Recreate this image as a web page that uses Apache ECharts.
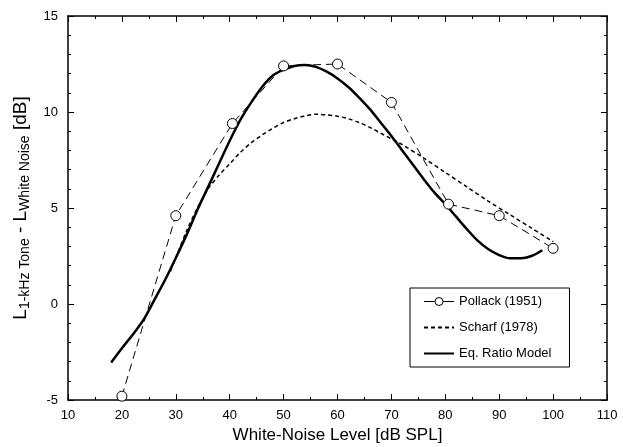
<!DOCTYPE html>
<html>
<head>
<meta charset="utf-8">
<script src="https://cdn.jsdelivr.net/npm/echarts@6/dist/echarts.min.js"></script>
<style>
  html, body { margin: 0; padding: 0; background: #fff; }
  #chart { width: 623px; height: 447px; }
</style>
</head>
<body>
<div id="chart"></div>
<script>
// data
const pollackX = [20, 30, 40.5, 50, 60, 70, 80.6, 90, 100];
const pollackY = [-4.8, 4.6, 9.4, 12.4, 12.5, 10.5, 5.2, 4.6, 2.9];

const scharfX = [29, 30, 32, 34, 36, 38, 40, 42, 44, 46, 48, 50, 52, 54, 56, 58, 60, 62, 64, 66, 68, 70, 72, 76, 80, 84, 88, 92, 96, 100];
const scharfY = [1.7, 2.4, 3.8, 5.0, 6.0, 6.7, 7.3, 7.9, 8.4, 8.8, 9.15, 9.45, 9.65, 9.8, 9.88, 9.85, 9.78, 9.65, 9.45, 9.2, 8.9, 8.6, 8.3, 7.6, 6.85, 6.1, 5.35, 4.65, 3.95, 3.25];

const modelX = [18, 20, 22, 24, 26, 28, 30, 32, 34, 36, 38, 40, 42, 44, 46, 48, 50, 52, 54, 56, 58, 60, 62, 64, 66, 68, 70, 72, 74, 76, 78, 80, 82, 84, 86, 88, 90, 92, 94, 96, 98];
const modelY = [-3.05, -2.3, -1.6, -0.83, 0.2, 1.25, 2.4, 3.6, 4.9, 6.1, 7.3, 8.5, 9.6, 10.5, 11.3, 11.9, 12.2, 12.4, 12.45, 12.35, 12.1, 11.75, 11.3, 10.75, 10.15, 9.45, 8.75, 8.0, 7.25, 6.5, 5.8, 5.2, 4.55, 3.9, 3.3, 2.85, 2.55, 2.38, 2.38, 2.5, 2.8];

const xTicks = [10, 110, 10];   // min, max, interval
const yTicks = [-5, 15, 5];

const font = 'Liberation Sans, Arial, Helvetica, sans-serif';
const zip = (xs, ys) => xs.map((x, i) => [x, ys[i]]);

const chart = echarts.init(document.getElementById('chart'));

const frameAxis = {
  axisLine: { show: true, onZero: false, lineStyle: { color: '#000', width: 1.5 } },
  axisTick: { show: true, inside: true, length: 6, lineStyle: { color: '#000', width: 1 } },
  splitLine: { show: false }
};
const minor = n => ({ minorTick: { show: true, splitNumber: n, length: 3, lineStyle: { color: '#000', width: 1 } } });

chart.setOption({
  animation: false,
  backgroundColor: '#fff',
  grid: { left: 68, right: 16, top: 16, bottom: 47, outerBoundsMode: 'none' },
  xAxis: [
    Object.assign({
      type: 'value', min: xTicks[0], max: xTicks[1], interval: xTicks[2],
      name: 'White-Noise Level [dB SPL]', nameLocation: 'middle', nameGap: 27,
      nameTextStyle: { fontFamily: font, fontSize: 17, color: '#000' },
      axisLabel: { fontFamily: font, fontSize: 13, color: '#000', margin: 9 }
    }, frameAxis, minor(2)),
    Object.assign({
      type: 'value', min: xTicks[0], max: xTicks[1], interval: xTicks[2], position: 'top',
      axisLabel: { show: false }
    }, frameAxis, minor(2))
  ],
  yAxis: [
    Object.assign({
      type: 'value', min: yTicks[0], max: yTicks[1], interval: yTicks[2],
      name: '{m|L}{s|1-kHz Tone}{m| - L}{s|White Noise}{m| [dB]}',
      nameLocation: 'middle', nameGap: 34, nameRotate: 90,
      nameTextStyle: {
        fontFamily: font, color: '#000',
        rich: {
          m: { fontFamily: font, fontSize: 19, color: '#000' },
          s: { fontFamily: font, fontSize: 14, color: '#000', padding: [10, 0, 0, 0] }
        }
      },
      axisLabel: { fontFamily: font, fontSize: 13, color: '#000', margin: 10 }
    }, frameAxis, minor(5)),
    Object.assign({
      type: 'value', min: yTicks[0], max: yTicks[1], interval: yTicks[2], position: 'right',
      axisLabel: { show: false }
    }, frameAxis, minor(5))
  ],
  legend: {
    orient: 'vertical', left: 410, top: 288,
    padding: [7, 18, 7, 13],
    itemWidth: 30, itemHeight: 10, itemGap: 13,
    borderColor: '#000', borderWidth: 1, backgroundColor: '#fff',
    textStyle: { fontFamily: font, fontSize: 13, color: '#000' },
    data: [
      { name: 'Pollack (1951)', lineStyle: { type: 'solid', width: 1 }, itemStyle: { borderWidth: 1 } },
      'Scharf (1978)',
      'Eq. Ratio Model'
    ]
  },
  series: [
    {
      name: 'Scharf (1978)', type: 'line', data: zip(scharfX, scharfY),
      smooth: 0.3, showSymbol: false, symbol: 'none',
      itemStyle: { color: '#000', opacity: 0 },
      lineStyle: { color: '#000', width: 1.5, type: [4, 3], opacity: 1 }, z: 2
    },
    {
      name: 'Eq. Ratio Model', type: 'line', data: zip(modelX, modelY),
      smooth: 0.3, showSymbol: false, symbol: 'none',
      itemStyle: { color: '#000', opacity: 0 },
      lineStyle: { color: '#000', width: 2.5, opacity: 1 }, z: 3
    },
    {
      name: 'Pollack (1951)', type: 'line', data: zip(pollackX, pollackY),
      symbol: 'circle', symbolSize: 10,
      itemStyle: { color: '#fff', borderColor: '#000', borderWidth: 1 },
      lineStyle: { color: '#000', width: 1, type: [8, 5] }, z: 4
    }
  ]
});
</script>
</body>
</html>
